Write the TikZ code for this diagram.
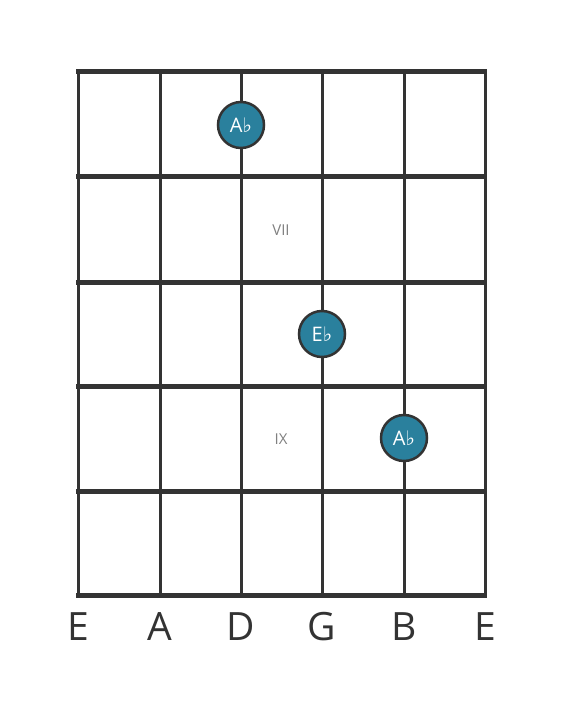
\documentclass[tikz,border=0pt]{standalone}
\usepackage{fontspec}
\setmainfont{Open Sans}
\newfontfamily\flatfont{DejaVu Sans}
\usetikzlibrary{positioning}
\definecolor{gridgray}{HTML}{333333}
\definecolor{noteblue}{HTML}{2A809D}
\definecolor{labelgray}{HTML}{808080}
\newcommand{\flt}{{\flatfont\char"266D}}

\begin{document}
\begin{tikzpicture}[x=1pt,y=-1pt,
    fret/.style={draw=gridgray,line width=5pt},
    gstring/.style={draw=gridgray,line width=3pt},
    note/.style={circle,draw=gridgray,line width=2.5pt,fill=noteblue,
        minimum size=46pt,inner sep=0pt,text=white,font=\fontsize{20}{20}\selectfont},
    fretmark/.style={text=labelgray,font=\fontsize{15}{15}\selectfont},
    strname/.style={text=gridgray,font=\fontsize{39}{39}\selectfont}]
    \useasboundingbox (0,0) rectangle (566,711);
    % strings
    \foreach \x in {78,160,241,322,404,485}{
        \draw[gstring] (\x,72) -- (\x,595);
    }
    % frets
    \foreach \y in {72,177,282,386,491,595}{
        \draw[fret] (76,\y) -- (487,\y);
    }
    % string names
    \foreach \x/\s in {78/E,160/A,241/D,322/G,404/B,485/E}{
        \node[strname] (name\x) at (\x,627) {\s};
    }
    % position marks
    \node[fretmark] (vii) at (281,230) {VII};
    \node[fretmark] (ix) at (281,439) {IX};
    % notes
    \node[note] (ab1) at (241,125) {A\flt};
    \node[note] (eb) at (322,334) {E\flt};
    \node[note] (ab2) at (404,438) {A\flt};
\end{tikzpicture}
\end{document}
